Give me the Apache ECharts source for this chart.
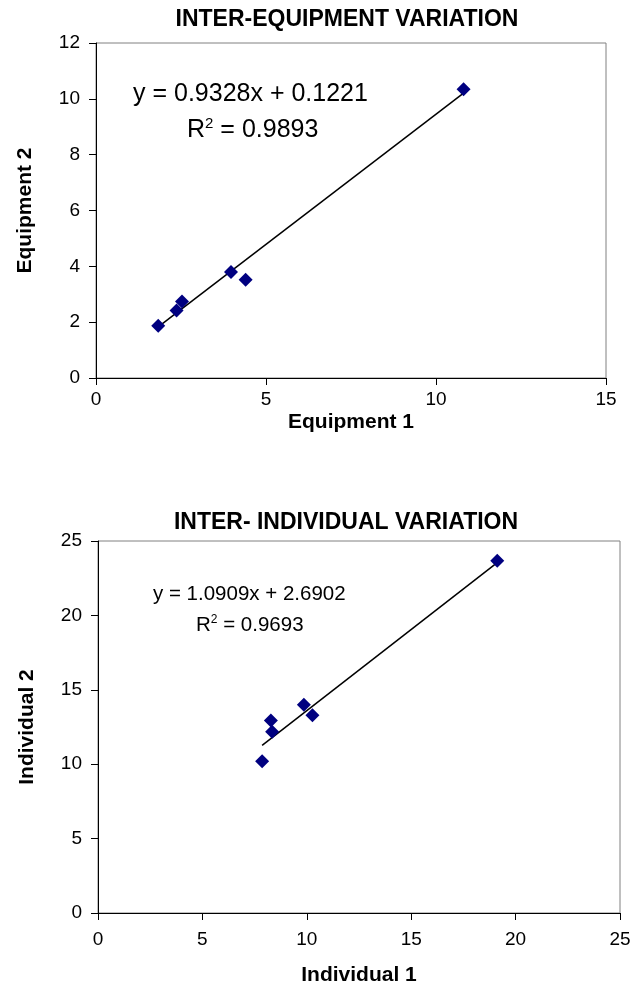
<!DOCTYPE html>
<html>
<head>
<meta charset="utf-8">
<script src="https://cdn.jsdelivr.net/npm/echarts@6/dist/echarts.min.js"></script>
<style>
html, body { margin: 0; padding: 0; background: #fff; }
#main { width: 637px; height: 987px; }
</style>
</head>
<body>
<div id="main"></div>
<script>
// inter-equipment: equipment 1 vs equipment 2
var equip1 = [1.83, 2.37, 2.53, 3.97, 4.40, 10.81];
var equip2 = [1.87, 2.42, 2.74, 3.80, 3.52, 10.34];
var equipFit = { slope: 0.9328, intercept: 0.1221, r2: '0.9893' };

// inter-individual: individual 1 vs individual 2
var indiv1 = [7.86, 8.34, 8.28, 9.86, 10.27, 19.12];
var indiv2 = [10.19, 12.18, 12.94, 13.99, 13.29, 23.68];
var indivFit = { slope: 1.0909, intercept: 2.6902, r2: '0.9693' };

var equipTicks = { xMax: 15, xStep: 5, yMax: 12, yStep: 2 };
var indivTicks = { xMax: 25, xStep: 5, yMax: 25, yStep: 5 };

var FONT = 'Liberation Sans, Arial, sans-serif';

function pairs(xs, ys) {
    var out = [];
    for (var i = 0; i < xs.length; i++) out.push([xs[i], ys[i]]);
    return out;
}

// trendline over the range of the x values
function fitLine(xs, fit) {
    var lo = Math.min.apply(null, xs), hi = Math.max.apply(null, xs);
    return [[lo, fit.slope * lo + fit.intercept], [hi, fit.slope * hi + fit.intercept]];
}

function xAxisOf(idx, name, t, gap, margin) {
    return {
        type: 'value', gridIndex: idx, min: 0, max: t.xMax, interval: t.xStep,
        name: name, nameLocation: 'middle', nameGap: gap,
        nameTextStyle: { fontFamily: FONT, fontWeight: 'bold', fontSize: 21, color: '#000' },
        axisLine: { lineStyle: { color: '#000', width: 1 } },
        axisTick: { show: true, length: 7, lineStyle: { color: '#000' } },
        axisLabel: { fontFamily: FONT, fontSize: 19, color: '#000', margin: margin },
        splitLine: { show: false }
    };
}

function yAxisOf(idx, name, t, gap) {
    return {
        type: 'value', gridIndex: idx, min: 0, max: t.yMax, interval: t.yStep,
        name: name, nameLocation: 'middle', nameGap: gap,
        nameTextStyle: { fontFamily: FONT, fontWeight: 'bold', fontSize: 21, color: '#000' },
        axisLine: { show: true, lineStyle: { color: '#000', width: 1 } },
        axisTick: { show: true, length: 7, lineStyle: { color: '#000' } },
        axisLabel: { fontFamily: FONT, fontSize: 19, color: '#000', margin: 16 },
        splitLine: { show: false }
    };
}

var chart = echarts.init(document.getElementById('main'), null, { renderer: 'canvas' });

var option = {
    backgroundColor: '#fff',
    animation: false,
    grid: [
        { left: 96, top: 43, width: 510, height: 335, show: true, borderColor: '#808080', borderWidth: 1, backgroundColor: '#fff' },
        { left: 98, top: 541, width: 522, height: 373, show: true, borderColor: '#808080', borderWidth: 1, backgroundColor: '#fff' }
    ],
    xAxis: [
        xAxisOf(0, 'Equipment 1', equipTicks, 34, 12),
        xAxisOf(1, 'Individual 1', indivTicks, 52, 17)
    ],
    yAxis: [
        yAxisOf(0, 'Equipment 2', equipTicks, 60),
        yAxisOf(1, 'Individual 2', indivTicks, 60)
    ],
    series: [
        {
            type: 'line', xAxisIndex: 0, yAxisIndex: 0, data: fitLine(equip1, equipFit),
            symbol: 'none', lineStyle: { color: '#000', width: 1.5 }, z: 2
        },
        {
            type: 'scatter', xAxisIndex: 0, yAxisIndex: 0, data: pairs(equip1, equip2),
            symbol: 'diamond', symbolSize: 14, itemStyle: { color: '#000080', opacity: 1 }, z: 3
        },
        {
            type: 'line', xAxisIndex: 1, yAxisIndex: 1, data: fitLine(indiv1, indivFit),
            symbol: 'none', lineStyle: { color: '#000', width: 1.5 }, z: 2
        },
        {
            type: 'scatter', xAxisIndex: 1, yAxisIndex: 1, data: pairs(indiv1, indiv2),
            symbol: 'diamond', symbolSize: 14, itemStyle: { color: '#000080', opacity: 1 }, z: 3
        }
    ],
    graphic: [
        {
            type: 'text', x: 347, y: 20, z: 10,
            style: { text: 'INTER-EQUIPMENT VARIATION', fontFamily: FONT, fontWeight: 'bold', fontSize: 23,
                     fill: '#000', align: 'center', verticalAlign: 'middle' }
        },
        {
            type: 'text', x: 133, y: 94, z: 10,
            style: { text: 'y = ' + equipFit.slope + 'x + ' + equipFit.intercept, fontFamily: FONT, fontSize: 25,
                     fill: '#000', align: 'left', verticalAlign: 'middle' }
        },
        {
            type: 'text', x: 187, y: 130, z: 10,
            style: {
                text: 'R{sup|2} = ' + equipFit.r2, fontFamily: FONT, fontSize: 25, fill: '#000',
                align: 'left', verticalAlign: 'middle',
                rich: { sup: { fontFamily: FONT, fontSize: 15, fill: '#000', padding: [0, 0, 12, 0] } }
            }
        },
        {
            type: 'text', x: 346, y: 523, z: 10,
            style: { text: 'INTER- INDIVIDUAL VARIATION', fontFamily: FONT, fontWeight: 'bold', fontSize: 23,
                     fill: '#000', align: 'center', verticalAlign: 'middle' }
        },
        {
            type: 'text', x: 153, y: 594, z: 10,
            style: { text: 'y = ' + indivFit.slope + 'x + ' + indivFit.intercept, fontFamily: FONT, fontSize: 20.5,
                     fill: '#000', align: 'left', verticalAlign: 'middle' }
        },
        {
            type: 'text', x: 196, y: 625, z: 10,
            style: {
                text: 'R{sup|2} = ' + indivFit.r2, fontFamily: FONT, fontSize: 20.5, fill: '#000',
                align: 'left', verticalAlign: 'middle',
                rich: { sup: { fontFamily: FONT, fontSize: 12, fill: '#000', padding: [0, 0, 10, 0] } }
            }
        }
    ]
};

chart.setOption(option);
</script>
</body>
</html>
